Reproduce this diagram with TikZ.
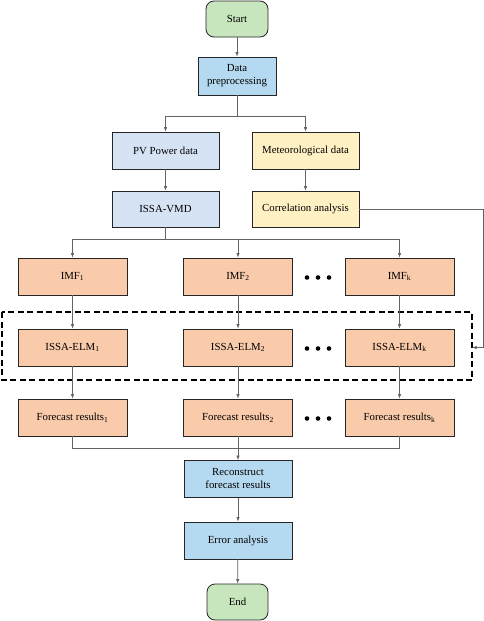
\documentclass[tikz,border=0pt]{standalone}
\usepackage{fontspec}
\setmainfont{Liberation Serif}
\usetikzlibrary{arrows.meta}
\definecolor{cgreen}{RGB}{199,230,189}
\definecolor{cblue}{RGB}{180,217,240}
\definecolor{clblue}{RGB}{214,227,245}
\definecolor{cyellow}{RGB}{255,241,196}
\definecolor{corange}{RGB}{249,203,171}
\definecolor{cline}{RGB}{100,100,100}
\tikzset{
  box/.style={draw=black!85, line width=0.8pt, minimum height=37pt, align=center, inner sep=1pt, font=\fontsize{10.8}{13}\selectfont},
  term/.style={box, fill=cgreen, rounded corners=8pt, minimum width=62pt, minimum height=36pt},
  bbox/.style={box, fill=cblue, minimum width=108pt},
  lbox/.style={box, fill=clblue, minimum width=107pt},
  ybox/.style={box, fill=cyellow, minimum width=107pt},
  obox/.style={box, fill=corange, minimum width=109pt},
  conn/.style={draw=cline, line width=0.7pt},
  arr/.style={conn, -{Latex[length=4.5pt,width=3.5pt]}},
}
\begin{document}
\begin{tikzpicture}[x=1pt,y=-1pt]
\useasboundingbox (0,0) rectangle (484,621);
\node[term] (start) at (237,19) {Start};
\node[bbox, minimum width=78pt, minimum height=38pt] (pre) at (237,76) {Data\\preprocessing};
\node[lbox] (pv) at (165.5,150.5) {PV Power data};
\node[ybox] (met) at (305.5,150.5) {Meteorological data};
\node[lbox, minimum height=36pt] (vmd) at (165.5,209) {ISSA-VMD};
\node[ybox, minimum height=36pt] (cor) at (305.5,209) {Correlation analysis};

\node[obox] (i1) at (72.5,276.5) {IMF\textsubscript{1}};
\node[obox] (i2) at (238,276.5) {IMF\textsubscript{2}};
\node[obox] (ik) at (399.5,276.5) {IMF\textsubscript{k}};
\node[obox] (e1) at (72.5,347.5) {ISSA-ELM\textsubscript{1}};
\node[obox] (e2) at (238,347.5) {ISSA-ELM\textsubscript{2}};
\node[obox] (ek) at (399.5,347.5) {ISSA-ELM\textsubscript{k}};
\node[obox] (f1) at (72.5,417.5) {Forecast results\textsubscript{1}};
\node[obox] (f2) at (238,417.5) {Forecast results\textsubscript{2}};
\node[obox] (fk) at (399.5,417.5) {Forecast results\textsubscript{k}};

\node[bbox] (rec) at (238,479) {Reconstruct\\forecast results};
\node[bbox] (err) at (238,540.5) {Error analysis};
\node[term, minimum width=61pt] (end) at (237.5,602) {End};

% dots
\foreach \yy in {277.5,348.5,418.5}{
  \fill (307,\yy) circle (2.3pt);
  \fill (318,\yy) circle (2.3pt);
  \fill (329,\yy) circle (2.3pt);
}

% dashed box
\draw[black, line width=1.1pt, dash pattern=on 6pt off 3.5pt] (2,312) rectangle (472,380);
\coordinate (dbr) at (472,347.5);

% connectors
\draw[arr] (start) -- (pre);
\coordinate (b1) at (237,116);
\draw[conn] (pre.south) -- (b1);
\draw[arr] (b1) -| (pv.north);
\draw[arr] (b1) -| (met.north);
\draw[arr] (pv) -- (vmd);
\draw[arr] (met) -- (cor);
\coordinate (b2) at (165.5,239);
\draw[conn] (vmd.south) -- (b2);
\draw[arr] (b2) -| (i1.north);
\draw[arr] (b2) -| (i2.north);
\draw[arr] (b2) -| (ik.north);
\draw[arr] (i1) -- (e1);
\draw[arr] (i2) -- (e2);
\draw[arr] (ik) -- (ek);
\draw[arr] (e1) -- (f1);
\draw[arr] (e2) -- (f2);
\draw[arr] (ek) -- (fk);
\coordinate (cr) at (483,209);
\draw[arr] (cor.east) -- (cr) |- (dbr);
\coordinate (m) at (238,448);
\draw[conn] (f1.south) |- (m);
\draw[conn] (fk.south) |- (m);
\draw[arr] (f2) -- (rec);
\draw[arr] (rec) -- (err);
\draw[arr] (err) -- (end);
\end{tikzpicture}
\end{document}
